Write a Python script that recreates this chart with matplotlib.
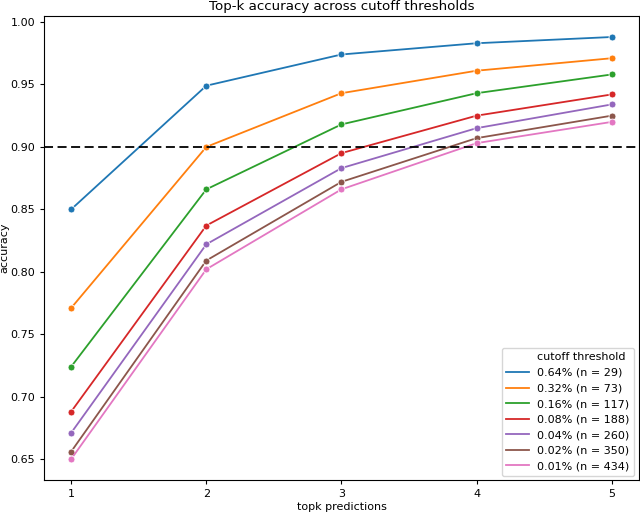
import matplotlib
matplotlib.use("Agg")
import matplotlib.pyplot as plt
from matplotlib.lines import Line2D

plt.rcParams["font.size"] = 8

topk = [1, 2, 3, 4, 5]
labels = ["0.64% (n = 29)", "0.32% (n = 73)", "0.16% (n = 117)", "0.08% (n = 188)",
          "0.04% (n = 260)", "0.02% (n = 350)", "0.01% (n = 434)"]
acc_064 = [0.850, 0.949, 0.974, 0.983, 0.988]
acc_032 = [0.771, 0.900, 0.943, 0.961, 0.971]
acc_016 = [0.724, 0.866, 0.918, 0.943, 0.958]
acc_008 = [0.688, 0.837, 0.895, 0.925, 0.942]
acc_004 = [0.671, 0.822, 0.883, 0.915, 0.934]
acc_002 = [0.656, 0.809, 0.872, 0.907, 0.925]
acc_001 = [0.650, 0.802, 0.866, 0.903, 0.920]
series = [acc_064, acc_032, acc_016, acc_008, acc_004, acc_002, acc_001]
colors = ["#1f77b4", "#ff7f0e", "#2ca02c", "#d62728", "#9467bd", "#8c564b", "#e377c2"]

fig = plt.figure(figsize=(6.4, 5.13), dpi=100)
ax = fig.add_axes([0.069, 0.064, 0.929, 0.905])
for vals, c in zip(series, colors):
    ax.plot(topk, vals, color=c, lw=1.3, marker="o", markersize=5,
            markeredgecolor="white", markeredgewidth=0.6)
ax.axhline(0.90, color="black", ls="--", lw=1.3, dashes=(5, 2.5))
ax.set_xticks(topk)
ax.set_xlabel("topk predictions", labelpad=2)
ax.set_ylabel("accuracy", labelpad=0.5)
ax.set_title("Top-k accuracy across cutoff thresholds", pad=4)
ax.tick_params(length=3)

handles = [Line2D([], [], linestyle="none")]
hl = ["cutoff threshold"]
for c, l in zip(colors, labels):
    handles.append(Line2D([], [], color=c, lw=1.3))
    hl.append(l)
ax.legend(handles, hl, loc="lower right", handlelength=2.0, borderaxespad=0.4,
          labelspacing=0.5)
fig.savefig("out.png", dpi=100)
